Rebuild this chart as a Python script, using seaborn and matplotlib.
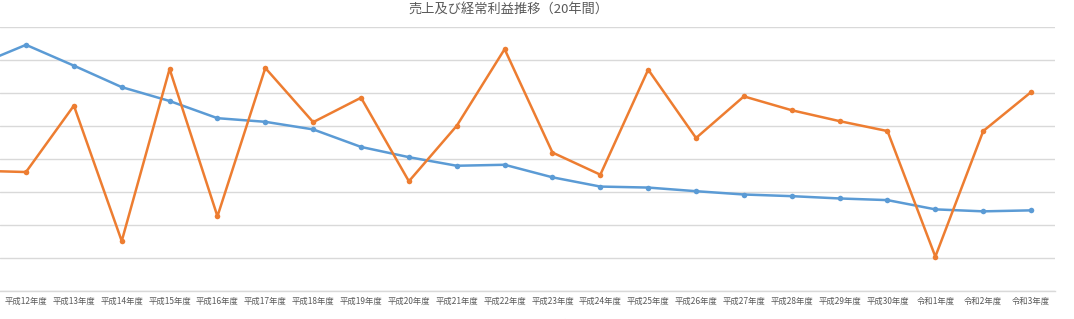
import matplotlib
matplotlib.use("Agg")
import matplotlib.pyplot as plt
import seaborn as sns
import pandas as pd
import numpy as np

# Data (arbitrary units, gridline spacing = 100)
years = ["平成11年度", "平成12年度", "平成13年度", "平成14年度", "平成15年度", "平成16年度",
         "平成17年度", "平成18年度", "平成19年度", "平成20年度", "平成21年度",
         "平成22年度", "平成23年度", "平成24年度", "平成25年度", "平成26年度",
         "平成27年度", "平成28年度", "平成29年度", "平成30年度", "令和1年度",
         "令和2年度", "令和3年度"]
sales = [686, 746, 683, 618, 576, 524, 513, 490, 437, 406, 380, 383, 345,
         317, 314, 303, 293, 288, 281, 276, 248, 242, 245]
profit = [365, 361, 562, 152, 673, 227, 676, 512, 586, 333, 501, 733, 420,
          353, 671, 464, 590, 548, 515, 485, 105, 485, 603]
series_names = ["総売上高", "経常利益"]
colors = ["#5b9bd5", "#ed7d31"]

sns.set_style("white")
plt.rcParams['font.family'] = ['Noto Sans CJK JP', 'DejaVu Sans']

W, H = 1074, 319
fig = plt.figure(figsize=(W / 100, H / 100), dpi=100)
ax_left, ax_right = 0 / W, 1055 / W
ax_bottom, ax_top = (H - 291.3) / H, (H - 27) / H
ax = fig.add_axes([ax_left, ax_bottom, ax_right - ax_left, ax_top - ax_bottom])

df = pd.DataFrame({
    "year": years * 2,
    "idx": list(range(len(years))) * 2,
    "value": sales + profit,
    "series": [series_names[0]] * len(years) + [series_names[1]] * len(years),
})

sns.lineplot(data=df, x="idx", y="value", hue="series", palette=colors,
             marker="o", markersize=4, markeredgewidth=0, linewidth=1.8,
             ax=ax, legend=False, sort=False)

ax.set_xticks(range(len(years)))
ax.set_xticklabels(years)
ax.set_xlim(1 - 26 / 47.84, len(years) - 0.5)
ax.set_ylim(0, 800)
ax.set_yticks(np.arange(0, 801, 100))
ax.set_yticklabels([])
ax.grid(axis="y", color="#d9d9d9", linewidth=1)
ax.grid(axis="x", visible=False)
ax.set_axisbelow(True)
for s in ["left", "right", "top"]:
    ax.spines[s].set_visible(False)
ax.spines["bottom"].set_color("#d9d9d9")
ax.spines["bottom"].set_linewidth(1)
ax.tick_params(axis="x", length=0, pad=4, labelsize=6, labelcolor="#595959")
ax.tick_params(axis="y", length=0)
ax.set_xlabel("")
ax.set_ylabel("")

fig.text(508 / W, 1 - 9 / H, "売上及び経常利益推移（20年間）", ha="center", va="center",
         fontsize=9.5, color="#595959")

from matplotlib.lines import Line2D
handles = [Line2D([0], [0], color=c, marker="o", markersize=3, linewidth=1.8,
                  markeredgewidth=0) for c in colors]
fig.legend(handles, series_names, loc="center", ncol=2,
           bbox_to_anchor=(510 / W, 1 - 324 / H), frameon=False, fontsize=6.5,
           labelcolor="#595959", handlelength=2.2, columnspacing=1.5)

fig.savefig("out.png", dpi=100)
